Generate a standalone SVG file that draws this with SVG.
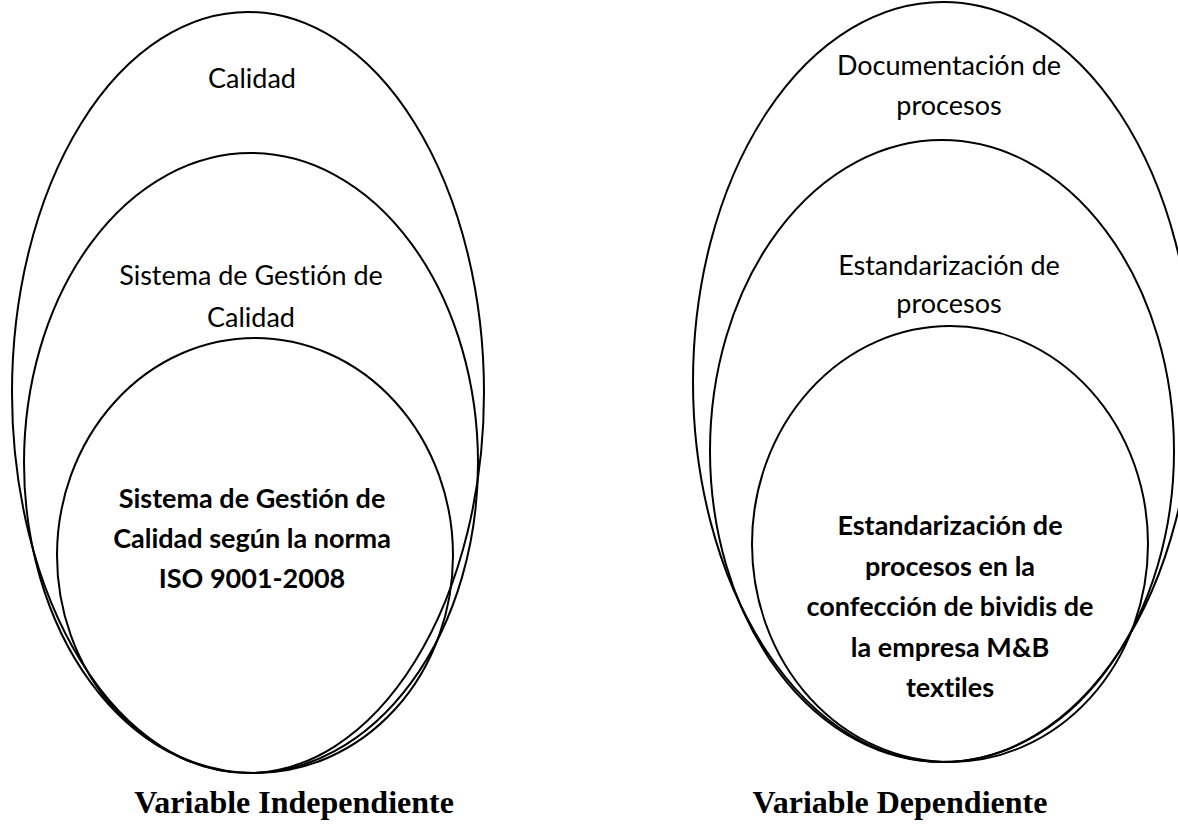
<svg xmlns="http://www.w3.org/2000/svg" width="1178" height="824" viewBox="0 0 1178 824">
<style>
.e{fill:none;stroke:#000;stroke-width:2}
.t{font-family:Lato,"Open Sans","Liberation Sans",sans-serif;font-size:27px;fill:#000;text-anchor:middle;font-variant-ligatures:none;font-feature-settings:"liga" 0,"clig" 0}
.b{font-weight:bold}
.v{font-family:"Liberation Serif",serif;font-size:32px;font-weight:bold;fill:#000;text-anchor:middle}
</style>
<rect width="1178" height="824" fill="#fff"/>
<g id="left-outer"><ellipse class="e" cx="248" cy="392.5" rx="236" ry="380.5"/><text class="t" x="252" y="88">Calidad</text></g>
<g id="left-middle"><ellipse class="e" cx="251" cy="463" rx="227" ry="310"/><text class="t" x="251" y="285">Sistema de Gestión de</text><text class="t" x="251" y="327">Calidad</text></g>
<g id="left-inner"><ellipse class="e" cx="255" cy="555.5" rx="198" ry="217.5"/><text class="t b" x="252" y="508">Sistema de Gestión de</text><text class="t b" x="252" y="548">Calidad según la norma</text><text class="t b" x="252" y="588">ISO 9001-2008</text></g>
<g id="right-outer"><ellipse class="e" cx="943" cy="382" rx="250" ry="380"/><text class="t" x="949" y="75">Documentación de</text><text class="t" x="949" y="115">procesos</text></g>
<g id="right-middle"><ellipse class="e" cx="942" cy="451" rx="232" ry="311"/><text class="t" x="949" y="275">Estandarización de</text><text class="t" x="949" y="313">procesos</text></g>
<g id="right-inner"><ellipse class="e" cx="950" cy="544" rx="198" ry="218"/><text class="t b" x="950" y="535">Estandarización de</text><text class="t b" x="950" y="576">procesos en la</text><text class="t b" x="950" y="616">confección de bividis de</text><text class="t b" x="950" y="657">la empresa M&amp;B</text><text class="t b" x="950" y="697">textiles</text></g>
<g id="labels"><text class="v" x="294" y="813">Variable Independiente</text><text class="v" x="900" y="813">Variable Dependiente</text></g>
<g id="connectors"/>
</svg>
